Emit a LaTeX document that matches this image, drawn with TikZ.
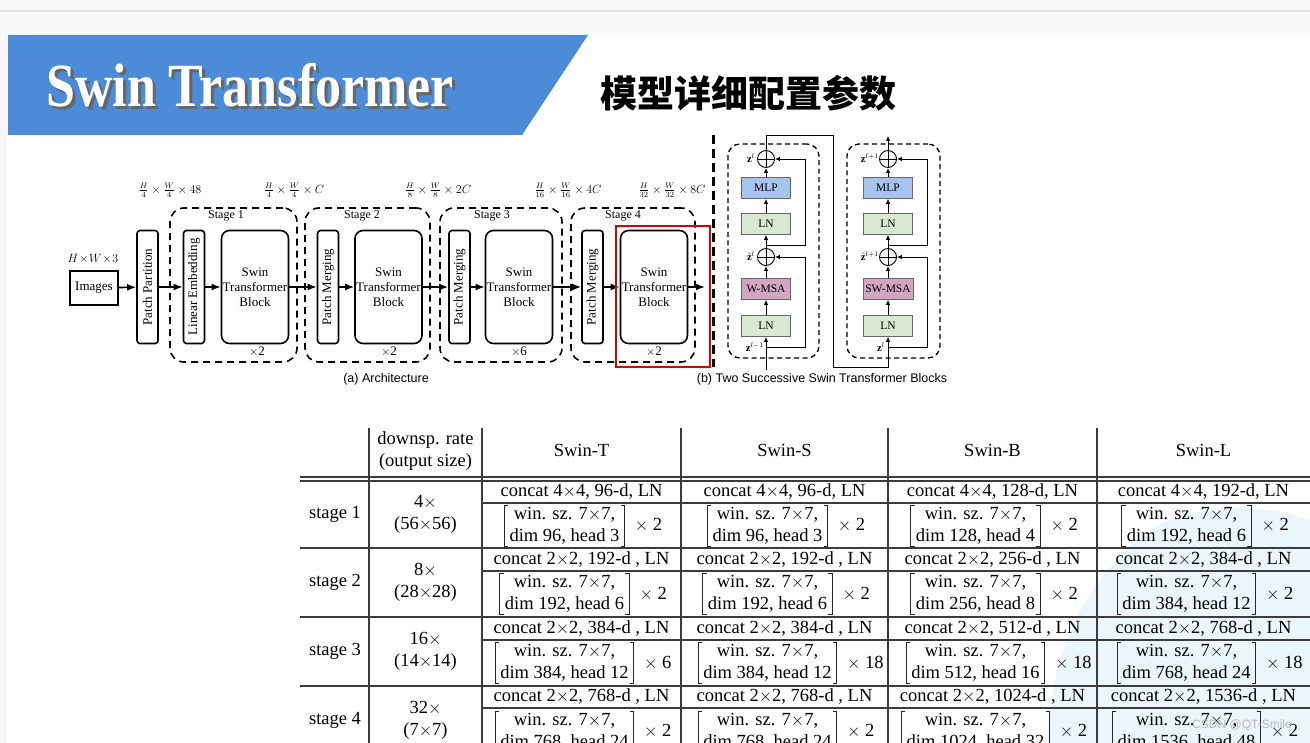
\documentclass[tikz,border=0pt]{standalone}
\usepackage{amsmath,amssymb}
\usepackage{fontspec}
\setmainfont{Liberation Serif}
\setsansfont{Liberation Sans}
\newfontfamily\cjkfont{Noto Sans CJK SC}
\usepackage{xcolor}
\usetikzlibrary{arrows.meta,positioning,calc}
\definecolor{swinblue}{RGB}{76,139,216}
\definecolor{mlpblue}{RGB}{166,196,236}
\definecolor{lngreen}{RGB}{216,232,210}
\definecolor{msapink}{RGB}{212,166,192}
\definecolor{tabline}{RGB}{60,60,60}
\definecolor{wmblue}{RGB}{234,245,252}

\begin{document}
\begin{tikzpicture}[x=1pt,y=-1pt,
  every node/.style={font=\fontsize{13}{15}\selectfont},
  arr/.style={-{Latex[length=9pt,width=7pt]}, line width=1.6pt},
  blk/.style={draw, line width=1.6pt, rounded corners=8pt, minimum width=67pt,
              minimum height=113pt, align=center, inner sep=0pt},
  vblk/.style={draw, line width=1.6pt, rounded corners=3pt, minimum width=113pt,
               minimum height=21pt, rotate=90, inner sep=0pt},
  stagebox/.style={draw, dash pattern=on 7pt off 5pt, line width=1.6pt, rounded corners=14pt,
                   inner sep=0pt},
  dimlbl/.style={font=\fontsize{12}{14}\selectfont},
  sblk/.style={draw=black!60, line width=0.8pt, minimum width=49pt, minimum height=21pt,
               inner sep=0pt, font=\fontsize{11.5}{13}\selectfont},
  addop/.style={draw, circle, minimum size=17pt, inner sep=0pt, line width=0.9pt},
  ln/.style={line width=0.9pt},
  sarr/.style={-{Latex[length=5pt,width=4.5pt]}, line width=0.9pt},
  blkbox/.style={draw, dash pattern=on 5pt off 3.5pt, line width=1.3pt, rounded corners=12pt,
                 inner sep=0pt},
  zlbl/.style={font=\fontsize{10.5}{12}\selectfont, inner sep=0pt, anchor=east},
  tab/.style={font=\fontsize{18.5}{22}\selectfont, inner sep=0pt, align=center},
  tl/.style={draw=tabline, line width=1.1pt},
  brk/.style={draw=black!85, line width=1pt}
]
\useasboundingbox (0,0) rectangle (1310,743);
\clip (0,0) rectangle (1310,743);

% page background
\fill[white] (0,0) rectangle (1310,743);
\fill[gray!5] (0,0) rectangle (1310,33);
\draw[gray!22, line width=2pt] (0,11) -- (1310,11);
\fill[gray!7] (0,33) rectangle (7,743);
\fill[wmblue] (1048,743) .. controls (1050,650) and (1085,580) .. (1150,530)
  .. controls (1200,500) and (1270,505) .. (1310,520) -- (1310,743) -- cycle;

% title banner
\fill[swinblue] (8,35) -- (588,35) -- (522,135) -- (8,135) -- cycle;
\node[font=\bfseries\fontsize{52}{56}\selectfont, text=black!60] (titlesh) at (253,88)
  {\scalebox{1}[1.18]{Swin Transformer}};
\node[font=\bfseries\fontsize{52}{56}\selectfont, text=white] (title) at (250,85)
  {\scalebox{1}[1.18]{Swin Transformer}};
\node[font=\cjkfont\bfseries\fontsize{37}{40}\selectfont] (subt) at (748,93) {模型详细配置参数};

% (a) architecture
\node (hw3) at (93,259) {$H\!\times\!W\!\times\!3$};
\node[draw, line width=1.6pt, minimum width=48pt, minimum height=34pt, inner sep=0pt] (imgs) at (94,288) {Images};
\node[vblk] (pp) at (147.5,287) {Patch Partition};

\node[stagebox, minimum width=127pt, minimum height=154pt] (st1) at (233.5,285) {};
\node[stagebox, minimum width=125pt, minimum height=154pt] (st2) at (367.5,285) {};
\node[stagebox, minimum width=122pt, minimum height=154pt] (st3) at (501,285) {};
\node[stagebox, minimum width=124pt, minimum height=154pt] (st4) at (633,285) {};
\node[dimlbl] (st1lbl) at (226,216) {Stage 1};
\node[dimlbl] (st2lbl) at (362,216) {Stage 2};
\node[dimlbl] (st3lbl) at (492,216) {Stage 3};
\node[dimlbl] (st4lbl) at (623,216) {Stage 4};

\node[vblk] (le)  at (194,287)   {Linear Embedding};
\node[blk]  (stb1) at (255,287)  {Swin\\Transformer\\Block};
\node[vblk] (pm2) at (328,287)   {Patch Merging};
\node[blk]  (stb2) at (388.5,287) {Swin\\Transformer\\Block};
\node[vblk] (pm3) at (459.5,287) {Patch Merging};
\node[blk]  (stb3) at (519,287)  {Swin\\Transformer\\Block};
\node[vblk] (pm4) at (592.5,287) {Patch Merging};
\node[blk]  (stb4) at (654,287)  {Swin\\Transformer\\Block};
\node (rep1) at (257,352) {$\times$2};
\node (rep2) at (389,352) {$\times$2};
\node (rep3) at (519,352) {$\times$6};
\node (rep4) at (654,352) {$\times$2};

\node[dimlbl] (dim0) at (170,190) {$\frac{H}{4}\times\frac{W}{4}\times 48$};
\node[dimlbl] (dim1) at (294,190) {$\frac{H}{4}\times\frac{W}{4}\times C$};
\node[dimlbl] (dim2) at (438,190) {$\frac{H}{8}\times\frac{W}{8}\times 2C$};
\node[dimlbl] (dim3) at (568,190) {$\frac{H}{16}\times\frac{W}{16}\times 4C$};
\node[dimlbl] (dim4) at (672,190) {$\frac{H}{32}\times\frac{W}{32}\times 8C$};

\coordinate (aout) at (705,287);
\draw[arr] (imgs) -- (pp);
\draw[arr] (pp) -- (le);
\draw[arr] (le) -- (stb1);
\draw[arr] (stb1) -- (pm2);
\draw[arr] (pm2) -- (stb2);
\draw[arr] (stb2) -- (pm3);
\draw[arr] (pm3) -- (stb3);
\draw[arr] (stb3) -- (pm4);
\draw[arr] (pm4) -- (stb4);
\draw[arr] (stb4) -- (aout);

\draw[red!85!black, line width=1.5pt] (616,226) rectangle (710,367);
\draw[line width=3pt, dash pattern=on 9pt off 5pt] (713,135) -- (713,367);

\node[font=\sffamily\fontsize{12.5}{14}\selectfont] (capa) at (386,379) {(a) Architecture};
\node[font=\sffamily\fontsize{12.5}{14}\selectfont] (capb) at (822,379) {(b) Two Successive Swin Transformer Blocks};

% (b) two successive blocks
\node[blkbox, minimum width=91pt, minimum height=214pt] (bb1) at (773.5,251) {};
\node[blkbox, minimum width=93pt, minimum height=214pt] (bb2) at (893.5,251) {};

\node[sblk, fill=lngreen]  (ln1)  at (766,326) {LN};
\node[sblk, fill=msapink]  (msa1) at (766,289) {W-MSA};
\node[addop]               (add1) at (766,257) {};
\node[sblk, fill=lngreen]  (ln2)  at (766,224) {LN};
\node[sblk, fill=mlpblue]  (mlp1) at (766,188) {MLP};
\node[addop]               (add2) at (766,159) {};

\node[sblk, fill=lngreen]  (ln3)  at (888,326) {LN};
\node[sblk, fill=msapink, minimum width=50pt] (msa2) at (888,289) {SW-MSA};
\node[addop]               (add3) at (888,257) {};
\node[sblk, fill=lngreen]  (ln4)  at (888,224) {LN};
\node[sblk, fill=mlpblue]  (mlp2) at (888,188) {MLP};
\node[addop]               (add4) at (888,159) {};

\foreach \p in {add1,add2,add3,add4}
  \draw[ln] (\p.north) -- (\p.south) (\p.west) -- (\p.east);

\node[zlbl] (zin1)  at (764,347) {$\mathbf{z}^{l-1}$};
\node[zlbl] (zh1)   at (755,256) {$\hat{\mathbf{z}}^{l}$};
\node[zlbl] (zo1)   at (755,158) {$\mathbf{z}^{l}$};
\node[zlbl] (zin2)  at (885,347) {$\mathbf{z}^{l}$};
\node[zlbl] (zh2)   at (879,256) {$\hat{\mathbf{z}}^{l+1}$};
\node[zlbl] (zo2)   at (879,158) {$\mathbf{z}^{l+1}$};

\coordinate (in1) at (766,370);
\coordinate (br1) at (766,347);
\coordinate (rx1) at (805,347);
\coordinate (br2) at (766,245);
\coordinate (rx2) at (805,245);
\coordinate (top1) at (833,135);
\coordinate (bot1) at (888,367);
\coordinate (br3) at (888,347);
\coordinate (rx3) at (927,347);
\coordinate (br4) at (888,245);
\coordinate (rx4) at (927,245);
\coordinate (out2) at (888,136);

\draw[sarr] (in1) -- (ln1);
\draw[sarr] (ln1) -- (msa1);
\draw[sarr] (msa1) -- (add1);
\draw[sarr] (add1) -- (ln2);
\draw[sarr] (ln2) -- (mlp1);
\draw[sarr] (mlp1) -- (add2);
\draw[sarr] (br1) -- (rx1) |- (add1);
\draw[sarr] (br2) -- (rx2) |- (add2);
\draw[sarr] (add2) |- (top1) |- (bot1) -- (ln3);
\draw[sarr] (ln3) -- (msa2);
\draw[sarr] (msa2) -- (add3);
\draw[sarr] (add3) -- (ln4);
\draw[sarr] (ln4) -- (mlp2);
\draw[sarr] (mlp2) -- (add4);
\draw[sarr] (br3) -- (rx3) |- (add3);
\draw[sarr] (br4) -- (rx4) |- (add4);
\draw[sarr] (add4) -- (out2);

% configuration table
\foreach \x in {369,482,681,888,1097}
  \draw[tl] (\x,428) -- (\x,743);
\draw[tl] (300,477) -- (1310,477);
\draw[tl] (300,481) -- (1310,481);
\foreach \y in {548,617,686}
  \draw[tl] (300,\y) -- (1310,\y);
\foreach \y in {503,571,640,708}
  \draw[tl] (482,\y) -- (1310,\y);

\node[tab] (hrate) at (425.5,451) {downsp. rate\\(output size)};
\node[tab] (hT) at (581.5,450)  {Swin-T};
\node[tab] (hS) at (784.5,450)  {Swin-S};
\node[tab] (hB) at (992.5,450)  {Swin-B};
\node[tab] (hL) at (1203.5,450) {Swin-L};

\foreach \yc/\st/\ds/\os in {514.5/1/4/56, 582.5/2/8/28, 651.5/3/16/14, 720.5/4/32/7} {
  \node[tab] (stg\st) at (335,\yc) {stage \st};
  \node[tab] (ds\st) at (425.5,\yc) {\ds$\times$\\(\os$\times$\os)};
}

\foreach \cx/\yc/\yw/\cc/\dd/\hh/\nn [count=\i] in {
  581.5/492/525.5/{4$\times$4, 96-d, LN}/96/3/2,
  581.5/559.5/594/{2$\times$2, 192-d , LN}/192/6/2,
  581.5/628.5/663/{2$\times$2, 384-d , LN}/384/12/6,
  581.5/697/731.5/{2$\times$2, 768-d , LN}/768/24/2,
  784.5/492/525.5/{4$\times$4, 96-d, LN}/96/3/2,
  784.5/559.5/594/{2$\times$2, 192-d , LN}/192/6/2,
  784.5/628.5/663/{2$\times$2, 384-d , LN}/384/12/18,
  784.5/697/731.5/{2$\times$2, 768-d , LN}/768/24/2,
  992.5/492/525.5/{4$\times$4, 128-d, LN}/128/4/2,
  992.5/559.5/594/{2$\times$2, 256-d , LN}/256/8/2,
  992.5/628.5/663/{2$\times$2, 512-d , LN}/512/16/18,
  992.5/697/731.5/{2$\times$2, 1024-d , LN}/1024/32/2,
  1203.5/492/525.5/{4$\times$4, 192-d, LN}/192/6/2,
  1203.5/559.5/594/{2$\times$2, 384-d , LN}/384/12/2,
  1203.5/628.5/663/{2$\times$2, 768-d , LN}/768/24/18,
  1203.5/697/731.5/{2$\times$2, 1536-d , LN}/1536/48/2} {
  \node[tab] (cat\i) at (\cx,\yc) {concat \cc};
  \node[tab] (win\i) at ({\cx-17},\yw) {win. sz. 7$\times$7,\\dim \dd, head \hh};
  \draw[brk] ($(win\i.west)+(-1,-20.5)$) -- ++(-4,0) -- ++(0,41) -- ++(4,0);
  \draw[brk] ($(win\i.east)+(1,-20.5)$) -- ++(4,0) -- ++(0,41) -- ++(-4,0);
  \node[tab, anchor=west] (rep\i) at ($(win\i.east)+(15,0)$) {$\times$ \nn};
}

\node[font=\sffamily\fontsize{12}{14}\selectfont, text=gray!55] (wm) at (1242,725) {CSDN @QT-Smile};
\end{tikzpicture}
\end{document}
